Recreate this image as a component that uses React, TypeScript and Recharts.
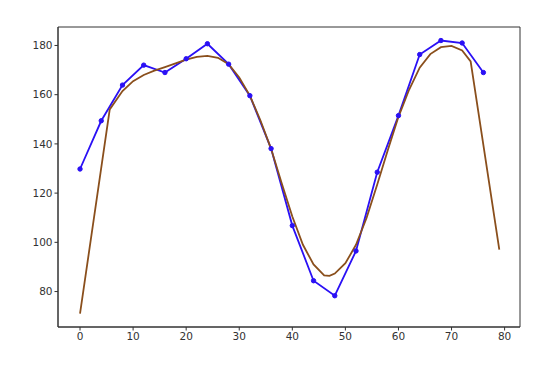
import { Line, XAxis, YAxis, ComposedChart, ReferenceArea } from "recharts";

// measured points (blue)
const sampleX = [0, 4, 8, 12, 16, 20, 24, 28, 32, 36, 40, 44, 48, 52, 56, 60, 64, 68, 72, 76];
const sampleY = [129.8, 149.4, 163.9, 172.0, 169.0, 174.6, 180.7, 172.4, 159.6, 138.1, 106.8, 84.4, 78.3, 96.5, 128.5, 151.5, 176.3, 182.0, 181.0, 169.0];

// fitted curve (brown)
const fitX = [0, 5.6, 8, 10, 12, 14, 16, 18, 20, 22, 24, 26, 28, 30, 32, 34, 36, 38, 40, 42, 44, 46, 47, 48, 50, 52, 54, 56, 58, 60, 62, 64, 66, 68, 70, 72, 73.6, 79];
const fitY = [71, 154, 161.5, 165.5, 168, 169.8, 171.2, 172.7, 174.2, 175.4, 175.8, 175, 172.4, 167, 159.6, 149.5, 138, 124, 110.5, 99, 91, 86.6, 86.4, 87.3, 91.5, 99, 110, 123.5, 137.5, 151, 162, 171, 176.5, 179.3, 179.8, 178, 173.5, 97];

const xTicks = [0, 10, 20, 30, 40, 50, 60, 70, 80];
const yTicks = [80, 100, 120, 140, 160, 180];

const samples = sampleX.map((x, i) => ({ x, y: sampleY[i] }));
const fit = fitX.map((x, i) => ({ x, y: fitY[i] }));

const X_DOMAIN: [number, number] = [-4.15, 82.9];
const Y_DOMAIN: [number, number] = [65.6, 187.5];

const tickStyle = { fill: "#333", fontSize: 10.5, fontFamily: "DejaVu Sans" };

export default function App() {
  return (
    <div style={{ position: "absolute", left: 0, top: 0, background: "#fff" }}>
      <ComposedChart width={550} height={369} margin={{ top: 27, right: 30, bottom: 0, left: 0 }}>
        <XAxis
          type="number"
          dataKey="x"
          domain={X_DOMAIN}
          ticks={xTicks}
          allowDataOverflow
          height={42}
          stroke="#333"
          tickSize={3.5}
          tick={tickStyle}
        />
        <YAxis
          type="number"
          domain={Y_DOMAIN}
          ticks={yTicks}
          allowDataOverflow
          width={58}
          stroke="#333"
          tickSize={3.5}
          tick={tickStyle}
        />
        <ReferenceArea
          x1={X_DOMAIN[0]}
          x2={X_DOMAIN[1]}
          y1={Y_DOMAIN[0]}
          y2={Y_DOMAIN[1]}
          fill="none"
          stroke="#333"
          strokeWidth={1}
        />
        <Line
          data={samples}
          dataKey="y"
          type="linear"
          stroke="#2a10f5"
          strokeWidth={1.8}
          dot={{ r: 2.2, fill: "#2a10f5", stroke: "#2a10f5", strokeWidth: 1 }}
          isAnimationActive={false}
        />
        <Line
          data={fit}
          dataKey="y"
          type="linear"
          stroke="#8a4f1c"
          strokeWidth={1.8}
          dot={false}
          isAnimationActive={false}
        />
      </ComposedChart>
    </div>
  );
}
